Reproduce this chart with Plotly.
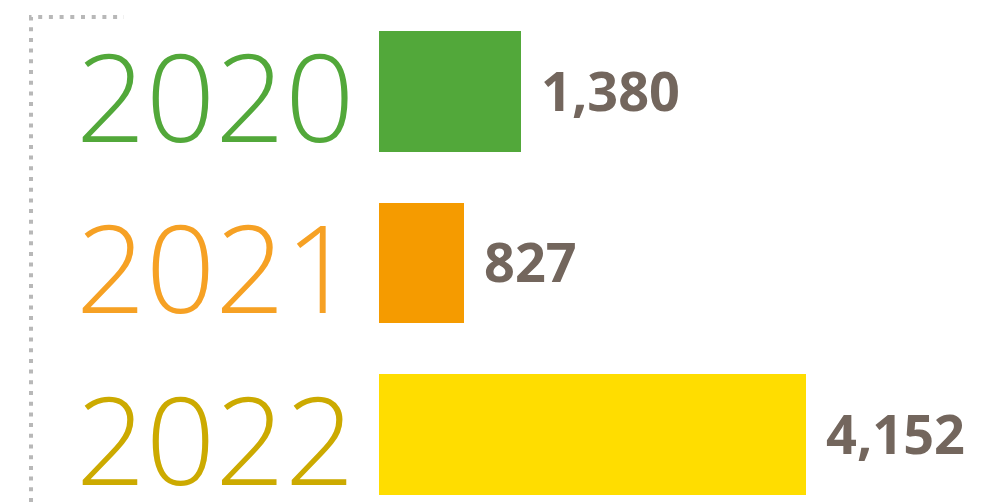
import plotly.graph_objects as go

years = ["2020", "2021", "2022"]
values = [1380, 827, 4152]
value_labels = ["1,380", "827", "4,152"]
bar_colors = ["#52A83A", "#F59B00", "#FFDD00"]
year_colors = ["#52A83A", "#F6A124", "#CCAA00"]

W, H = 993, 502
fig = go.Figure()
fig.add_trace(go.Bar(
    y=years, x=values, orientation="h",
    marker=dict(color=bar_colors, line=dict(width=0)),
    width=0.70, hoverinfo="skip", showlegend=False,
))

# value labels
for i, (v, lab) in enumerate(zip(values, value_labels)):
    fig.add_annotation(x=v, y=i, xref="x", yref="y", text=lab, showarrow=False,
                       xanchor="left", yanchor="middle", xshift=18, yshift=2,
                       font=dict(family="Open Sans", size=54, color="#73665D", weight="bold"))

# year labels
for i, (yv, c) in enumerate(zip(years, year_colors)):
    fig.add_annotation(x=357 / W, y=i, xref="paper", yref="y", text=yv, showarrow=False,
                       xanchor="right", yanchor="middle", yshift=-3,
                       font=dict(family="Open Sans", size=122, color=c, weight=300))

# dotted bracket
fig.add_shape(type="path", xref="paper", yref="paper",
              path=f"M {31/W},0 L {31/W},{1-17/H} L {124/W},{1-17/H}",
              line=dict(color="#B8B8B8", width=4, dash="4px,6.7px"))

ppu = 427 / 4152
fig.update_layout(
    width=W, height=H,
    margin=dict(l=0, r=0, t=0, b=0),
    paper_bgcolor="white", plot_bgcolor="white",
    xaxis=dict(range=[-379 / ppu, (W - 379) / ppu], visible=False, fixedrange=True),
    yaxis=dict(range=[2 + (H - 434.5) / 171.5, -91.5 / 171.5], visible=False,
               type="category", fixedrange=True),
    bargap=0,
)
fig.write_html("out.html", config={"displayModeBar": False})
with open("out.html", encoding="utf-8") as f:
    html = f.read()
html = html.replace("<body>", '<body style="margin:0;overflow:hidden">', 1)
with open("out.html", "w", encoding="utf-8") as f:
    f.write(html)
